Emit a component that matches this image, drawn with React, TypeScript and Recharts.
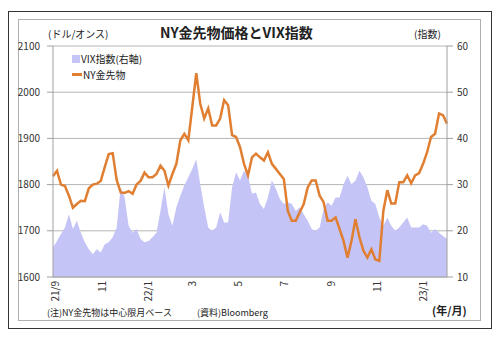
import { Area, CartesianGrid, ComposedChart, Line, XAxis, YAxis } from "recharts"

// NY gold futures (USD/oz), sampled along the time axis
const goldPrice = [
  1818, 1830, 1800, 1797, 1776, 1750, 1758, 1765, 1764, 1792,
  1800, 1802, 1808, 1838, 1866, 1868, 1810, 1783, 1782, 1786,
  1780, 1800, 1808, 1826, 1816, 1816, 1823, 1841, 1830, 1798,
  1823, 1845, 1896, 1910, 1896, 1968, 2041, 1975, 1943, 1965,
  1928, 1928, 1943, 1983, 1972, 1907, 1903, 1881, 1845, 1820,
  1859, 1867, 1859, 1852, 1870, 1845, 1834, 1823, 1812, 1743,
  1722, 1722, 1740, 1758, 1794, 1809, 1809, 1776, 1762, 1722,
  1722, 1729, 1704, 1678, 1642, 1678, 1725, 1686, 1657, 1642,
  1660, 1638, 1635, 1743, 1788, 1759, 1759, 1805, 1805, 1820,
  1803, 1820, 1825, 1845, 1870, 1903, 1910, 1954, 1950, 1932,
]

// VIX index (right axis)
const vixIndex = [
  16.4, 17.8, 19.3, 20.7, 23.6, 20.4, 22.2, 19.6, 17.5, 16.0,
  14.9, 16.0, 15.3, 17.1, 17.5, 18.6, 20.7, 29.4, 27.2, 21.1,
  19.6, 20.4, 18.2, 17.5, 17.8, 18.6, 19.6, 24.3, 29.4, 23.6,
  21.1, 25.1, 27.6, 29.8, 31.6, 33.4, 35.5, 30.1, 25.1, 20.7,
  20.0, 20.7, 24.0, 21.8, 21.8, 29.4, 32.7, 30.9, 33.0, 31.9,
  28.0, 28.3, 25.8, 24.7, 27.2, 30.9, 29.1, 26.9, 25.8, 26.2,
  25.8, 24.3, 25.1, 23.6, 22.2, 20.4, 20.0, 20.7, 24.7, 26.2,
  25.4, 27.2, 27.2, 30.1, 31.9, 30.1, 30.9, 33.0, 31.6, 29.4,
  26.5, 25.8, 22.9, 21.1, 22.9, 21.1, 20.0, 20.7, 21.8, 22.9,
  20.7, 20.7, 20.7, 21.4, 21.1, 19.6, 20.4, 19.6, 18.9, 18.2,
]

const xTickPos = [0.49, 12.07, 23.68, 34.85, 46.44, 58.02, 69.79, 81.37, 92.95]
const xTickLabels = ["21/9", "11", "22/1", "3", "5", "7", "9", "11", "23/1"]
const leftTicks = [1600, 1700, 1800, 1900, 2000, 2100]
const rightTicks = [10, 20, 30, 40, 50, 60]

const data = goldPrice.map((g, i) => ({ idx: i, gold: g, vix: vixIndex[i] }))

const FONT = '"Noto Sans CJK JP", "Noto Sans", sans-serif'
const GOLD = "#e07f32"
const VIX = "#c4c4f6"

const XTick = (props: any) => {
  const { x, y, payload } = props
  const k = xTickPos.indexOf(payload.value)
  return (
    <text
      x={x}
      y={y}
      transform={`rotate(-90 ${x} ${y})`}
      textAnchor="end"
      dominantBaseline="central"
      fontSize={10}
      fill="#333"
      fontFamily={FONT}
    >
      {xTickLabels[k]}
    </text>
  )
}

const label = (left: number, top: number, text: string, size: number, bold = false) => (
  <div
    style={{
      position: "absolute",
      left,
      top,
      fontSize: size,
      fontWeight: bold ? 700 : 400,
      lineHeight: 1,
      whiteSpace: "nowrap",
      color: "#222",
      fontFamily: FONT,
    }}
  >
    {text}
  </div>
)

export default function App() {
  return (
    <div style={{ position: "absolute", left: 0, top: 0, width: 500, height: 341, background: "#fff", fontFamily: FONT }}>
      <div style={{ position: "absolute", left: 8, top: 11, width: 482, height: 316, border: "1px solid #333" }} />
      <div style={{ position: "absolute", left: 18, top: 19, width: 461, height: 300, border: "1px solid #b0b0b0" }} />

      <div style={{ position: "absolute", left: 0, top: 0 }}>
        <ComposedChart width={500} height={341} data={data} margin={{ top: 46, right: 13, bottom: 34, left: 13 }}>
          <CartesianGrid yAxisId="left" vertical={false} stroke="#b4b4b4" />
          <XAxis
            dataKey="idx"
            type="number"
            domain={[0, 99]}
            ticks={xTickPos}
            interval={0}
            tick={<XTick />}
            tickLine={false}
            tickSize={0}
            tickMargin={4}
            height={30}
            axisLine={{ stroke: "#a0a0a0" }}
          />
          <YAxis
            yAxisId="left"
            orientation="left"
            width={40}
            domain={[1600, 2100]}
            ticks={leftTicks}
            interval={0}
            tickSize={6}
            tickMargin={7}
            axisLine={{ stroke: "#a0a0a0" }}
            tickLine={{ stroke: "#a0a0a0" }}
            tick={{ fontSize: 10, fill: "#333", fontFamily: FONT }}
          />
          <YAxis
            yAxisId="right"
            orientation="right"
            width={40}
            domain={[10, 60]}
            ticks={rightTicks}
            interval={0}
            tickSize={6}
            tickMargin={4}
            axisLine={{ stroke: "#a0a0a0" }}
            tickLine={{ stroke: "#a0a0a0" }}
            tick={{ fontSize: 10, fill: "#333", fontFamily: FONT }}
          />
          <Area
            yAxisId="right"
            dataKey="vix"
            type="linear"
            stroke="none"
            fill={VIX}
            fillOpacity={1}
            isAnimationActive={false}
          />
          <Line
            yAxisId="left"
            dataKey="gold"
            type="linear"
            stroke={GOLD}
            strokeWidth={2.5}
            dot={false}
            isAnimationActive={false}
          />
        </ComposedChart>
      </div>

      {label(160, 25, "NY金先物価格とVIX指数", 14, true)}
      {label(48, 29, "(ドル/オンス)", 10)}
      {label(414, 29, "(指数)", 10)}

      <div style={{ position: "absolute", left: 72, top: 55, width: 8, height: 8, background: VIX }} />
      {label(81, 54, "VIX指数(右軸)", 10)}
      <div style={{ position: "absolute", left: 72, top: 73, width: 10, height: 3, background: GOLD }} />
      {label(83, 70, "NY金先物", 10)}

      {label(47, 308, "(注)NY金先物は中心限月ベース", 9)}
      {label(197, 308, "(資料)Bloomberg", 9)}
      {label(432, 305, "(年/月)", 11, true)}
    </div>
  )
}
